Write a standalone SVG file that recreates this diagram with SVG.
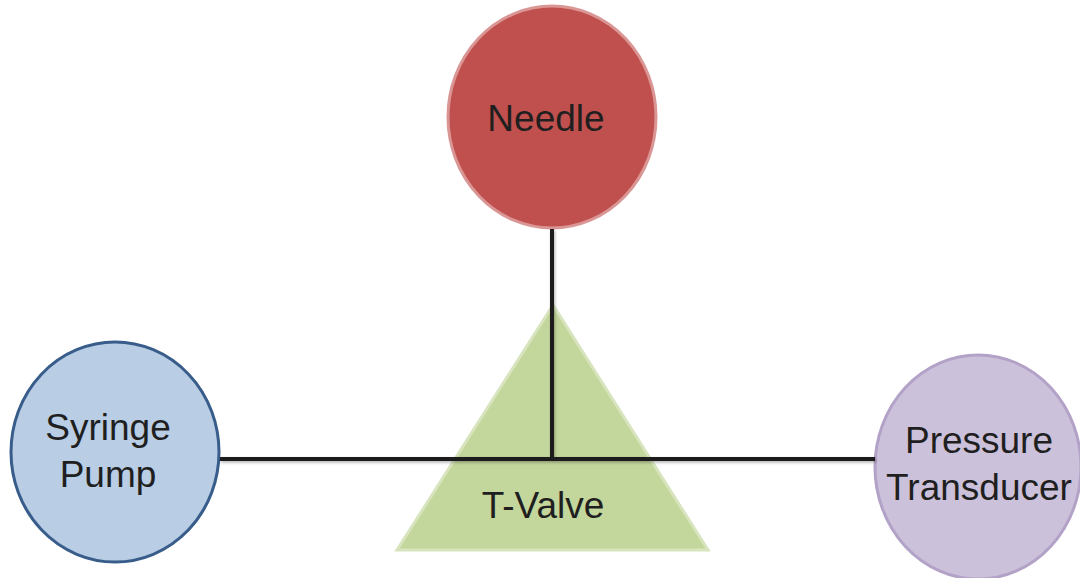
<svg xmlns="http://www.w3.org/2000/svg" width="1080" height="578" viewBox="0 0 1080 578">
<style>
text{font-family:"Liberation Sans",Arial,sans-serif;font-size:37px;fill:#1f1f1f;text-anchor:middle}
.conn{stroke:#1a1a1a;stroke-width:4;fill:none}
</style>
<defs>
<filter id="sh" x="-10%" y="-10%" width="120%" height="120%">
<feDropShadow dx="1" dy="1.5" stdDeviation="1.5" flood-color="#000" flood-opacity="0.3"/>
</filter>
</defs>
<rect width="1080" height="578" fill="#fff"/>
<g id="tvalve">
<polygon points="553,305 397,550 708,550" fill="#c3d69b" stroke="#d7e4bd" stroke-width="3"/>
<text x="543" y="518">T-Valve</text>
</g>
<g id="needle">
<ellipse cx="552" cy="117" rx="104" ry="111" fill="#c0504d" stroke="#d99694" stroke-width="3"/>
<text x="546" y="131">Needle</text>
</g>
<g id="syringe">
<ellipse cx="115" cy="452" rx="104" ry="110" fill="#b9cde5" stroke="#385d8a" stroke-width="3"/>
<text x="108" y="440">Syringe</text>
<text x="108" y="487">Pump</text>
</g>
<g id="transducer">
<ellipse cx="978" cy="467" rx="103" ry="112" fill="#ccc1da" stroke="#b3a2c7" stroke-width="3"/>
<text x="979" y="453">Pressure</text>
<text x="979" y="500">Transducer</text>
</g>
<g id="connectors" filter="url(#sh)">
<path class="conn" d="M552,229 V459"/>
<path class="conn" d="M220,459 H875"/>
</g>
</svg>
